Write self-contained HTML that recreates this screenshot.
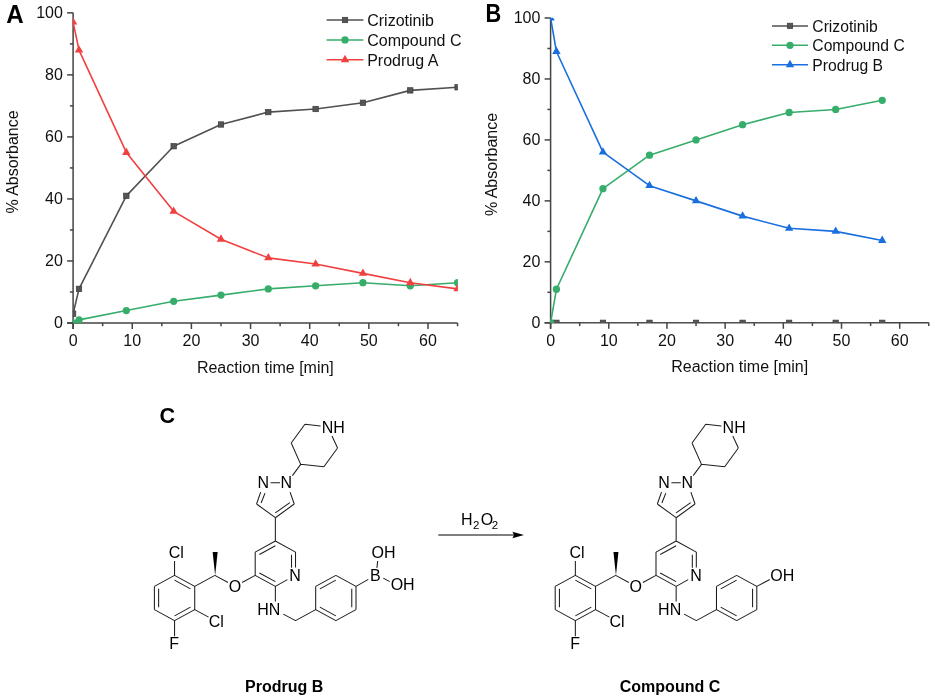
<!DOCTYPE html>
<html><head><meta charset="utf-8"><style>
html,body{margin:0;padding:0;background:#fff;}
svg{display:block;will-change:transform;}
</style></head><body>
<svg width="935" height="700" viewBox="0 0 935 700">
<rect width="935" height="700" fill="#fff"/>
<clipPath id="cA"><rect x="72.80" y="12.55" width="385.10" height="310.75"/></clipPath>
<g stroke="#444" stroke-width="1.5" fill="none">
<path d="M67.10 323.00H457.60M73.10 12.85V329.00"/>
<path d="M67.10 323.00H73.10"/>
<path d="M69.90 291.99H73.10"/>
<path d="M67.10 260.97H73.10"/>
<path d="M69.90 229.96H73.10"/>
<path d="M67.10 198.94H73.10"/>
<path d="M69.90 167.93H73.10"/>
<path d="M67.10 136.91H73.10"/>
<path d="M69.90 105.90H73.10"/>
<path d="M67.10 74.88H73.10"/>
<path d="M69.90 43.87H73.10"/>
<path d="M67.10 12.85H73.10"/>
<path d="M73.10 323.00V329.00"/>
<path d="M102.67 323.00V326.20"/>
<path d="M132.25 323.00V329.00"/>
<path d="M161.82 323.00V326.20"/>
<path d="M191.40 323.00V329.00"/>
<path d="M220.97 323.00V326.20"/>
<path d="M250.55 323.00V329.00"/>
<path d="M280.12 323.00V326.20"/>
<path d="M309.70 323.00V329.00"/>
<path d="M339.27 323.00V326.20"/>
<path d="M368.85 323.00V329.00"/>
<path d="M398.42 323.00V326.20"/>
<path d="M428.00 323.00V329.00"/>
<path d="M457.58 323.00V326.20"/>
</g>
<g font-family='"Liberation Sans", sans-serif' font-size="16" fill="#111">
<text x="62.90" y="328.00" text-anchor="end">0</text>
<text x="62.90" y="265.97" text-anchor="end">20</text>
<text x="62.90" y="203.94" text-anchor="end">40</text>
<text x="62.90" y="141.91" text-anchor="end">60</text>
<text x="62.90" y="79.88" text-anchor="end">80</text>
<text x="62.90" y="17.85" text-anchor="end">100</text>
<text x="73.10" y="346.30" text-anchor="middle">0</text>
<text x="132.25" y="346.30" text-anchor="middle">10</text>
<text x="191.40" y="346.30" text-anchor="middle">20</text>
<text x="250.55" y="346.30" text-anchor="middle">30</text>
<text x="309.70" y="346.30" text-anchor="middle">40</text>
<text x="368.85" y="346.30" text-anchor="middle">50</text>
<text x="428.00" y="346.30" text-anchor="middle">60</text>
</g>
<text font-family='"Liberation Sans", sans-serif' font-size="16" fill="#111" x="265.35" y="372.50" text-anchor="middle">Reaction time [min]</text>
<text font-family='"Liberation Sans", sans-serif' font-size="16" fill="#111" transform="translate(17.60 162.00) rotate(-90)" text-anchor="middle">% Absorbance</text>
<g clip-path="url(#cA)">
<path d="M73.10 313.70 L79.02 288.88 L126.33 195.84 L173.66 146.21 L220.97 124.50 L268.29 112.10 L315.62 109.00 L362.93 102.79 L410.25 90.39 L457.58 87.29" stroke="#515151" stroke-width="1.6" fill="none" stroke-linejoin="round"/>
<rect x="70.40" y="311.00" width="5.4" height="5.4" fill="#555" stroke="#3c3c3c" stroke-width="0.7"/>
<rect x="76.31" y="286.18" width="5.4" height="5.4" fill="#555" stroke="#3c3c3c" stroke-width="0.7"/>
<rect x="123.63" y="193.14" width="5.4" height="5.4" fill="#555" stroke="#3c3c3c" stroke-width="0.7"/>
<rect x="170.96" y="143.51" width="5.4" height="5.4" fill="#555" stroke="#3c3c3c" stroke-width="0.7"/>
<rect x="218.28" y="121.80" width="5.4" height="5.4" fill="#555" stroke="#3c3c3c" stroke-width="0.7"/>
<rect x="265.59" y="109.40" width="5.4" height="5.4" fill="#555" stroke="#3c3c3c" stroke-width="0.7"/>
<rect x="312.92" y="106.30" width="5.4" height="5.4" fill="#555" stroke="#3c3c3c" stroke-width="0.7"/>
<rect x="360.23" y="100.09" width="5.4" height="5.4" fill="#555" stroke="#3c3c3c" stroke-width="0.7"/>
<rect x="407.56" y="87.69" width="5.4" height="5.4" fill="#555" stroke="#3c3c3c" stroke-width="0.7"/>
<rect x="454.88" y="84.59" width="5.4" height="5.4" fill="#555" stroke="#3c3c3c" stroke-width="0.7"/>
<path d="M73.10 323.00 L79.02 319.90 L126.33 310.59 L173.66 301.29 L220.97 295.09 L268.29 288.88 L315.62 285.78 L362.93 282.68 L410.25 285.78 L457.58 282.68" stroke="#37AD6B" stroke-width="1.6" fill="none" stroke-linejoin="round"/>
<circle cx="73.10" cy="323.00" r="3.65" fill="#37AD6B"/>
<circle cx="79.02" cy="319.90" r="3.65" fill="#37AD6B"/>
<circle cx="126.33" cy="310.59" r="3.65" fill="#37AD6B"/>
<circle cx="173.66" cy="301.29" r="3.65" fill="#37AD6B"/>
<circle cx="220.97" cy="295.09" r="3.65" fill="#37AD6B"/>
<circle cx="268.29" cy="288.88" r="3.65" fill="#37AD6B"/>
<circle cx="315.62" cy="285.78" r="3.65" fill="#37AD6B"/>
<circle cx="362.93" cy="282.68" r="3.65" fill="#37AD6B"/>
<circle cx="410.25" cy="285.78" r="3.65" fill="#37AD6B"/>
<circle cx="457.58" cy="282.68" r="3.65" fill="#37AD6B"/>
<path d="M73.10 22.15 L79.02 50.07 L126.33 152.42 L173.66 211.35 L220.97 239.26 L268.29 257.87 L315.62 264.07 L362.93 273.38 L410.25 282.68 L457.58 288.88" stroke="#F14040" stroke-width="1.6" fill="none" stroke-linejoin="round"/>
<path d="M73.10 17.22L77.30 24.62L68.90 24.62Z" fill="#F14040"/>
<path d="M79.02 45.13L83.22 52.53L74.81 52.53Z" fill="#F14040"/>
<path d="M126.33 147.48L130.53 154.88L122.13 154.88Z" fill="#F14040"/>
<path d="M173.66 206.41L177.85 213.81L169.46 213.81Z" fill="#F14040"/>
<path d="M220.97 234.33L225.17 241.73L216.78 241.73Z" fill="#F14040"/>
<path d="M268.29 252.94L272.49 260.34L264.09 260.34Z" fill="#F14040"/>
<path d="M315.62 259.14L319.81 266.54L311.42 266.54Z" fill="#F14040"/>
<path d="M362.93 268.44L367.13 275.84L358.73 275.84Z" fill="#F14040"/>
<path d="M410.25 277.75L414.45 285.15L406.06 285.15Z" fill="#F14040"/>
<path d="M457.58 283.95L461.78 291.35L453.38 291.35Z" fill="#F14040"/>
</g>
<path d="M326.6 20.0H363.4" stroke="#515151" stroke-width="1.5"/>
<rect x="342.30" y="17.30" width="5.4" height="5.4" fill="#555" stroke="#3c3c3c" stroke-width="0.7"/>
<text font-family='"Liberation Sans", sans-serif' font-size="16" fill="#111" x="367.2" y="25.7">Crizotinib</text>
<path d="M326.6 39.9H363.4" stroke="#37AD6B" stroke-width="1.5"/>
<circle cx="345.00" cy="39.90" r="3.65" fill="#37AD6B"/>
<text font-family='"Liberation Sans", sans-serif' font-size="16" fill="#111" x="367.2" y="45.6">Compound C</text>
<path d="M326.6 59.8H363.4" stroke="#F14040" stroke-width="1.5"/>
<path d="M345.00 54.87L349.20 62.27L340.80 62.27Z" fill="#F14040"/>
<text font-family='"Liberation Sans", sans-serif' font-size="16" fill="#111" x="367.2" y="65.5">Prodrug A</text>
<text font-family='"Liberation Sans", sans-serif' font-size="25" font-weight="bold" fill="#000" transform="translate(6.3 22.7) scale(0.965 1)">A</text>
<clipPath id="cB"><rect x="550.30" y="17.70" width="378.80" height="305.40"/></clipPath>
<g stroke="#444" stroke-width="1.5" fill="none">
<path d="M544.60 322.80H928.80M550.60 18.00V328.80"/>
<path d="M544.60 322.80H550.60"/>
<path d="M547.40 292.32H550.60"/>
<path d="M544.60 261.84H550.60"/>
<path d="M547.40 231.36H550.60"/>
<path d="M544.60 200.88H550.60"/>
<path d="M547.40 170.40H550.60"/>
<path d="M544.60 139.92H550.60"/>
<path d="M547.40 109.44H550.60"/>
<path d="M544.60 78.96H550.60"/>
<path d="M547.40 48.48H550.60"/>
<path d="M544.60 18.00H550.60"/>
<path d="M550.60 322.80V328.80"/>
<path d="M579.69 322.80V326.00"/>
<path d="M608.78 322.80V328.80"/>
<path d="M637.87 322.80V326.00"/>
<path d="M666.96 322.80V328.80"/>
<path d="M696.05 322.80V326.00"/>
<path d="M725.14 322.80V328.80"/>
<path d="M754.23 322.80V326.00"/>
<path d="M783.32 322.80V328.80"/>
<path d="M812.41 322.80V326.00"/>
<path d="M841.50 322.80V328.80"/>
<path d="M870.59 322.80V326.00"/>
<path d="M899.68 322.80V328.80"/>
<path d="M928.77 322.80V326.00"/>
</g>
<g font-family='"Liberation Sans", sans-serif' font-size="16" fill="#111">
<text x="540.40" y="327.80" text-anchor="end">0</text>
<text x="540.40" y="266.84" text-anchor="end">20</text>
<text x="540.40" y="205.88" text-anchor="end">40</text>
<text x="540.40" y="144.92" text-anchor="end">60</text>
<text x="540.40" y="83.96" text-anchor="end">80</text>
<text x="540.40" y="23.00" text-anchor="end">100</text>
<text x="550.60" y="346.10" text-anchor="middle">0</text>
<text x="608.78" y="346.10" text-anchor="middle">10</text>
<text x="666.96" y="346.10" text-anchor="middle">20</text>
<text x="725.14" y="346.10" text-anchor="middle">30</text>
<text x="783.32" y="346.10" text-anchor="middle">40</text>
<text x="841.50" y="346.10" text-anchor="middle">50</text>
<text x="899.68" y="346.10" text-anchor="middle">60</text>
</g>
<text font-family='"Liberation Sans", sans-serif' font-size="16" fill="#111" x="739.70" y="372.30" text-anchor="middle">Reaction time [min]</text>
<text font-family='"Liberation Sans", sans-serif' font-size="16" fill="#111" transform="translate(497.00 164.50) rotate(-90)" text-anchor="middle">% Absorbance</text>
<g clip-path="url(#cB)">
<path d="M550.60 322.80 L556.42 322.80 L602.96 322.80 L649.51 322.80 L696.05 322.80 L742.59 322.80 L789.14 322.80 L835.68 322.80 L882.23 322.80" stroke="#515151" stroke-width="1.6" fill="none" stroke-linejoin="round"/>
<rect x="547.90" y="320.10" width="5.4" height="5.4" fill="#555" stroke="#3c3c3c" stroke-width="0.7"/>
<rect x="553.72" y="320.10" width="5.4" height="5.4" fill="#555" stroke="#3c3c3c" stroke-width="0.7"/>
<rect x="600.26" y="320.10" width="5.4" height="5.4" fill="#555" stroke="#3c3c3c" stroke-width="0.7"/>
<rect x="646.81" y="320.10" width="5.4" height="5.4" fill="#555" stroke="#3c3c3c" stroke-width="0.7"/>
<rect x="693.35" y="320.10" width="5.4" height="5.4" fill="#555" stroke="#3c3c3c" stroke-width="0.7"/>
<rect x="739.89" y="320.10" width="5.4" height="5.4" fill="#555" stroke="#3c3c3c" stroke-width="0.7"/>
<rect x="786.44" y="320.10" width="5.4" height="5.4" fill="#555" stroke="#3c3c3c" stroke-width="0.7"/>
<rect x="832.98" y="320.10" width="5.4" height="5.4" fill="#555" stroke="#3c3c3c" stroke-width="0.7"/>
<rect x="879.53" y="320.10" width="5.4" height="5.4" fill="#555" stroke="#3c3c3c" stroke-width="0.7"/>
<path d="M550.60 322.80 L556.42 289.27 L602.96 188.69 L649.51 155.16 L696.05 139.92 L742.59 124.68 L789.14 112.49 L835.68 109.44 L882.23 100.30" stroke="#37AD6B" stroke-width="1.6" fill="none" stroke-linejoin="round"/>
<circle cx="550.60" cy="322.80" r="3.65" fill="#37AD6B"/>
<circle cx="556.42" cy="289.27" r="3.65" fill="#37AD6B"/>
<circle cx="602.96" cy="188.69" r="3.65" fill="#37AD6B"/>
<circle cx="649.51" cy="155.16" r="3.65" fill="#37AD6B"/>
<circle cx="696.05" cy="139.92" r="3.65" fill="#37AD6B"/>
<circle cx="742.59" cy="124.68" r="3.65" fill="#37AD6B"/>
<circle cx="789.14" cy="112.49" r="3.65" fill="#37AD6B"/>
<circle cx="835.68" cy="109.44" r="3.65" fill="#37AD6B"/>
<circle cx="882.23" cy="100.30" r="3.65" fill="#37AD6B"/>
<path d="M550.60 18.00 L556.42 51.53 L602.96 152.11 L649.51 185.64 L696.05 200.88 L742.59 216.12 L789.14 228.31 L835.68 231.36 L882.23 240.50" stroke="#1A6FDF" stroke-width="1.6" fill="none" stroke-linejoin="round"/>
<path d="M550.60 13.07L554.80 20.47L546.40 20.47Z" fill="#1A6FDF"/>
<path d="M556.42 46.59L560.62 53.99L552.22 53.99Z" fill="#1A6FDF"/>
<path d="M602.96 147.18L607.16 154.58L598.76 154.58Z" fill="#1A6FDF"/>
<path d="M649.51 180.71L653.71 188.11L645.31 188.11Z" fill="#1A6FDF"/>
<path d="M696.05 195.95L700.25 203.35L691.85 203.35Z" fill="#1A6FDF"/>
<path d="M742.59 211.19L746.79 218.59L738.39 218.59Z" fill="#1A6FDF"/>
<path d="M789.14 223.38L793.34 230.78L784.94 230.78Z" fill="#1A6FDF"/>
<path d="M835.68 226.43L839.88 233.83L831.48 233.83Z" fill="#1A6FDF"/>
<path d="M882.23 235.57L886.43 242.97L878.03 242.97Z" fill="#1A6FDF"/>
</g>
<path d="M772 25.9H808" stroke="#515151" stroke-width="1.5"/>
<rect x="787.30" y="23.20" width="5.4" height="5.4" fill="#555" stroke="#3c3c3c" stroke-width="0.7"/>
<text font-family='"Liberation Sans", sans-serif' font-size="15.7" fill="#111" x="812.3" y="31.599999999999998">Crizotinib</text>
<path d="M772 45.349999999999994H808" stroke="#37AD6B" stroke-width="1.5"/>
<circle cx="790.00" cy="45.35" r="3.65" fill="#37AD6B"/>
<text font-family='"Liberation Sans", sans-serif' font-size="15.7" fill="#111" x="812.3" y="51.05">Compound C</text>
<path d="M772 64.8H808" stroke="#1A6FDF" stroke-width="1.5"/>
<path d="M790.00 59.87L794.20 67.27L785.80 67.27Z" fill="#1A6FDF"/>
<text font-family='"Liberation Sans", sans-serif' font-size="15.7" fill="#111" x="812.3" y="70.5">Prodrug B</text>
<text font-family='"Liberation Sans", sans-serif' font-size="25.7" font-weight="bold" fill="#000" transform="translate(485.5 21.8) scale(0.848 1)">B</text>
<path d="M194.72 586.40L174.56 575.40M174.56 575.40L154.40 586.40M154.40 586.40L154.40 609.60M154.40 609.60L174.56 620.60M174.56 620.60L194.72 609.60M194.72 609.60L194.72 586.40M190.49 588.84L174.56 580.15M158.63 588.84L158.63 607.16M174.56 615.85L190.49 607.16M174.56 575.40L174.56 561.10M194.72 609.60L208.60 617.10M174.56 620.60L174.56 636.30M194.72 586.40L214.88 575.40M214.88 575.40L228.00 582.50M242.10 582.50L255.20 575.40M275.36 541.00L255.20 552.10M255.20 552.10L255.20 575.40M255.20 575.40L275.36 586.40M295.52 552.10L275.36 541.00M275.36 545.78L259.43 554.55M259.43 572.95L275.36 581.64M275.36 586.40L287.40 579.60M295.52 567.60L295.52 552.10M291.52 554.70L291.52 567.80M275.36 586.40L275.36 601.60M283.30 614.10L295.52 620.60M295.52 620.60L315.68 609.60M315.68 609.60L315.68 586.40M315.68 586.40L335.84 575.40M335.84 575.40L356.00 586.40M356.00 586.40L356.00 609.60M356.00 609.60L335.84 620.60M335.84 620.60L315.68 609.60M319.91 588.84L335.84 580.15M351.77 588.84L351.77 607.16M335.84 615.85L319.91 607.16M356.00 586.40L368.30 579.40M376.90 567.90L377.70 561.00M383.30 578.10L389.70 581.60M275.36 541.00L275.36 517.70M275.36 517.70L294.25 504.02M256.55 504.02L275.36 517.70M275.30 512.90L289.90 502.60M294.25 504.02L290.10 492.10M270.60 482.70L280.00 482.70M260.70 492.10L256.55 504.02M265.00 493.10L261.10 503.00M292.40 475.60L300.70 464.35M300.70 464.35L291.23 443.06M291.23 443.06L304.92 424.21M304.92 424.21L320.60 426.10M332.00 436.00L337.57 447.94M337.57 447.94L323.88 466.79M323.88 466.79L300.70 464.35" stroke="#1e1e1e" stroke-width="1.05" fill="none" stroke-linecap="butt"/>
<path d="M215.15 575.6L212.65 552.1L217.65 552.1Z" fill="#000"/>
<g font-family='"Liberation Sans", sans-serif' font-size="16" fill="#000"><text x="168.68" y="557.90">Cl</text><text x="208.72" y="626.60">Cl</text><text x="169.33" y="649.10">F</text><text x="228.68" y="592.20">O</text><text x="289.37" y="580.70">N</text><text x="257.32" y="615.00">HN</text><text x="370.03" y="580.90">B</text><text x="371.48" y="558.10">OH</text><text x="390.68" y="590.00">OH</text><text x="257.52" y="488.30">N</text><text x="280.62" y="488.30">N</text><text x="321.82" y="433.00">NH</text></g>
<path d="M595.52 586.40L575.36 575.40M575.36 575.40L555.20 586.40M555.20 586.40L555.20 609.60M555.20 609.60L575.36 620.60M575.36 620.60L595.52 609.60M595.52 609.60L595.52 586.40M591.29 588.84L575.36 580.15M559.43 588.84L559.43 607.16M575.36 615.85L591.29 607.16M575.36 575.40L575.36 561.10M595.52 609.60L609.40 617.10M575.36 620.60L575.36 636.30M595.52 586.40L615.68 575.40M615.68 575.40L628.80 582.50M642.90 582.50L656.00 575.40M676.16 541.00L656.00 552.10M656.00 552.10L656.00 575.40M656.00 575.40L676.16 586.40M696.32 552.10L676.16 541.00M676.16 545.78L660.23 554.55M660.23 572.95L676.16 581.64M676.16 586.40L688.20 579.60M696.32 567.60L696.32 552.10M692.32 554.70L692.32 567.80M676.16 586.40L676.16 601.60M684.10 614.10L696.32 620.60M696.32 620.60L716.48 609.60M716.48 609.60L716.48 586.40M716.48 586.40L736.64 575.40M736.64 575.40L756.80 586.40M756.80 586.40L756.80 609.60M756.80 609.60L736.64 620.60M736.64 620.60L716.48 609.60M720.71 588.84L736.64 580.15M752.57 588.84L752.57 607.16M736.64 615.85L720.71 607.16M756.80 586.40L769.80 579.50M676.16 541.00L676.16 517.70M676.16 517.70L695.05 504.02M657.35 504.02L676.16 517.70M676.10 512.90L690.70 502.60M695.05 504.02L690.90 492.10M671.40 482.70L680.80 482.70M661.50 492.10L657.35 504.02M665.80 493.10L661.90 503.00M693.20 475.60L701.50 464.35M701.50 464.35L692.03 443.06M692.03 443.06L705.72 424.21M705.72 424.21L721.40 426.10M732.80 436.00L738.37 447.94M738.37 447.94L724.68 466.79M724.68 466.79L701.50 464.35" stroke="#1e1e1e" stroke-width="1.05" fill="none" stroke-linecap="butt"/>
<path d="M615.95 575.6L613.45 552.1L618.45 552.1Z" fill="#000"/>
<g font-family='"Liberation Sans", sans-serif' font-size="16" fill="#000"><text x="569.48" y="557.90">Cl</text><text x="609.52" y="626.60">Cl</text><text x="570.13" y="649.10">F</text><text x="629.48" y="592.20">O</text><text x="690.17" y="580.70">N</text><text x="658.12" y="615.00">HN</text><text x="770.28" y="580.80">OH</text><text x="658.32" y="488.30">N</text><text x="681.42" y="488.30">N</text><text x="722.62" y="433.00">NH</text></g>
<path d="M438.3 535H514" stroke="#000" stroke-width="1"/>
<path d="M524 535L512.4 531.8L514 535L512.4 538.2Z" fill="#000"/>
<g font-family='"Liberation Sans", sans-serif' fill="#000"><text x="461.1" y="524.6" font-size="16">H</text><text x="472.9" y="528.6" font-size="11.5">2</text><text x="480.8" y="524.6" font-size="16">O</text><text x="491.8" y="528.6" font-size="11.5">2</text></g>
<g font-family='"Liberation Sans", sans-serif' font-weight="bold" font-size="16" fill="#000"><text x="284.1" y="692.3" text-anchor="middle">Prodrug B</text><text x="670" y="692.4" text-anchor="middle">Compound C</text></g>
<text font-family='"Liberation Sans", sans-serif' font-weight="bold" font-size="22.8" transform="translate(159.6 422.7) scale(0.95 1)" fill="#000">C</text>
</svg>
</body></html>
